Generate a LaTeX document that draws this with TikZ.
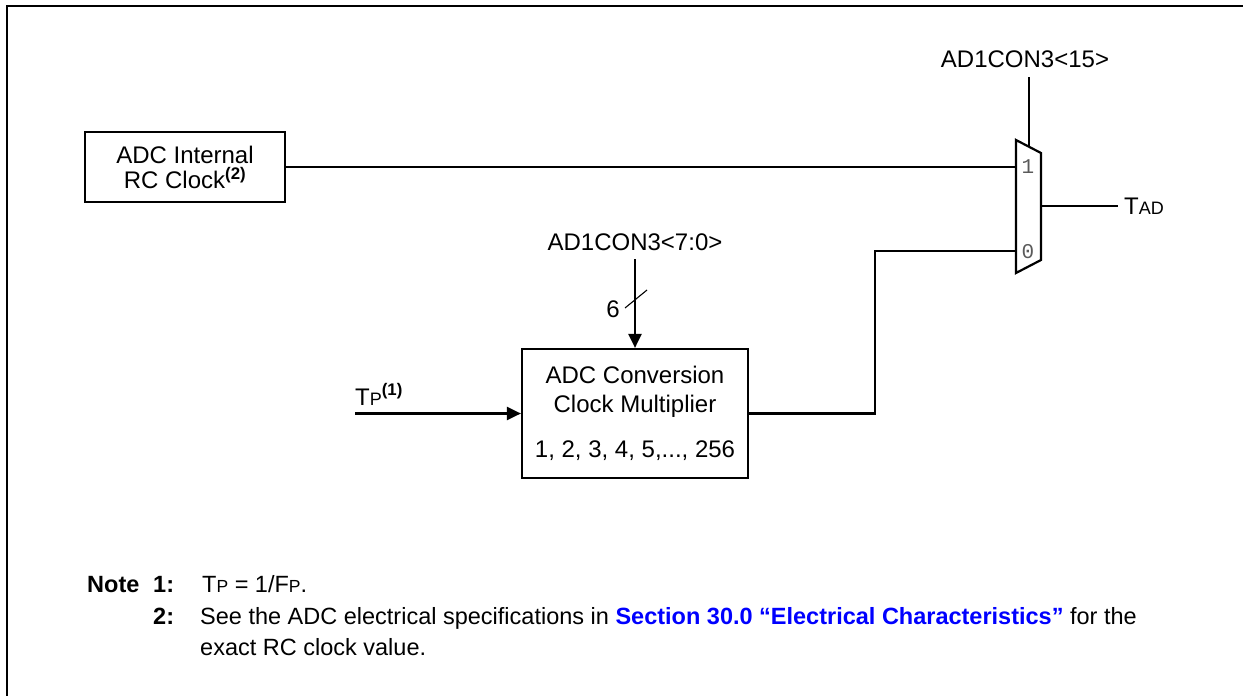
\documentclass[tikz,border=0pt]{standalone}
\usepackage{fontspec}
\setmainfont{Liberation Sans}
\setmonofont{Liberation Mono}
\usetikzlibrary{arrows.meta}
\definecolor{linkblue}{RGB}{0,0,255}
\definecolor{muxgrey}{RGB}{90,90,90}
\tikzset{
  wire/.style={line width=2.2pt},
  arr/.style={wire,-{Triangle[length=14pt,width=13pt]}},
  blk/.style={draw,line width=2.2pt,align=center,inner sep=0pt},
  lbl/.style={inner sep=0pt,font=\fontsize{24}{25}\selectfont},
  note/.style={inner sep=0pt,font=\fontsize{23.5}{25}\selectfont},
  muxlbl/.style={inner sep=0pt,text=muxgrey,font=\ttfamily\fontsize{21}{21}\selectfont}
}
\begin{document}
\begin{tikzpicture}[x=1pt,y=-1pt,font=\fontsize{24}{25}\selectfont]
\useasboundingbox (0,0) rectangle (1243,696);
% frame
\draw[line width=2.6pt] (7,696) -- (7,6) -- (1243,6);

% blocks
\node[blk,minimum width=200pt,minimum height=70pt] (rc) at (185,167)
  {ADC Internal\\RC Clock\textsuperscript{\bfseries (2)}};
\node[blk,minimum width=226pt,minimum height=129pt] (mult) at (635,413.5)
  {ADC Conversion\\[4pt]Clock Multiplier\\[20pt]1, 2, 3, 4, 5,..., 256};

% multiplexer
\coordinate (m1) at (1016,140);
\coordinate (m2) at (1041,153);
\coordinate (m3) at (1041,260);
\coordinate (m4) at (1016,273);
\draw[wire,line join=miter] (m1) -- (m2) -- (m3) -- (m4) -- cycle;
\coordinate (in1) at (1016,167);
\coordinate (in0) at (1016,251);
\coordinate (mout) at (1041,206);
\coordinate (msel) at (1029,146.8);
\node[muxlbl] (l1) at (1028,167) {1};
\node[muxlbl] (l0) at (1028,252) {0};

% labels
\node[lbl,anchor=base] (sel1) at (1025,67) {AD1CON3<15>};
\node[lbl,anchor=base] (sel2) at (635,250) {AD1CON3<7:0>};
\node[lbl] (six) at (613,309) {6};
\node[lbl,anchor=base west] (tp) at (355,405) {T{\fontsize{18}{18}\selectfont P}\textsuperscript{\bfseries (1)}};
\node[lbl,anchor=west] (tad) at (1124,206) {T{\fontsize{18}{18}\selectfont AD}};
\coordinate (tpstart) at (355,413.5);
\coordinate (bend) at (875,413.5);

% connectors
\draw[wire] (rc.east) -- (in1);
\draw[wire] (msel) -- (msel |- 0,77);
\draw[wire] (mout) -- (1118,206);
\draw[arr] (635,259) -- (mult.north);
\draw[line width=1.1pt] (625,308) -- (647,290);
\draw[arr] (tpstart) -- (mult.west);
\draw[wire] (mult.east) -- (bend) |- (in0);

% notes
\node[note,anchor=base west] (nn) at (87,592) {\bfseries Note};
\node[note,anchor=base west] (n1) at (153,592) {\bfseries 1:};
\node[note,anchor=base west] (t1) at (202,592) {T{\fontsize{17.5}{18}\selectfont P} = 1/F{\fontsize{17.5}{18}\selectfont P}.};
\node[note,anchor=base west] (n2) at (153,624) {\bfseries 2:};
\node[note,anchor=base west] (t2) at (200,624) {See the ADC electrical specifications in {\color{linkblue}\bfseries Section 30.0 “Electrical Characteristics”} for the};
\node[note,anchor=base west] (t3) at (200,655) {exact RC clock value.};
\end{tikzpicture}
\end{document}
